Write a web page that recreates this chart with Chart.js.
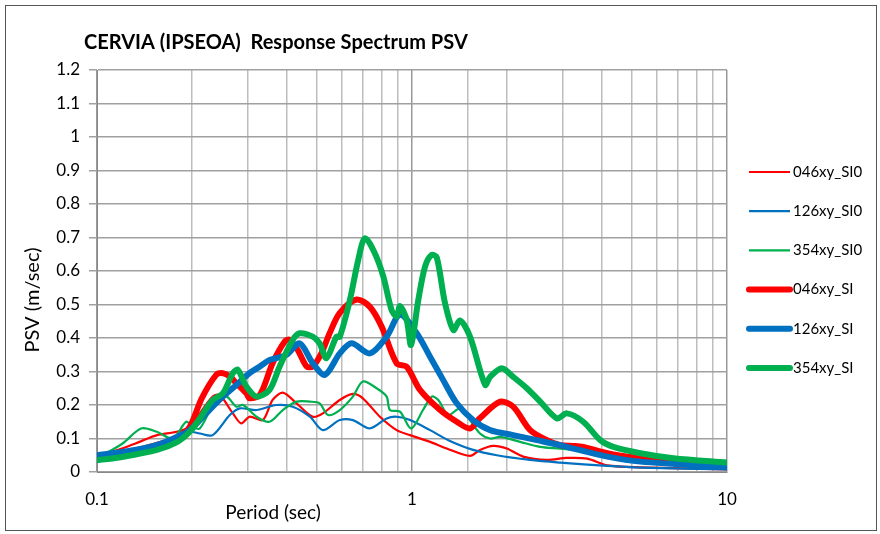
<!DOCTYPE html>
<html>
<head>
<meta charset="utf-8">
<title>CERVIA (IPSEOA) Response Spectrum PSV</title>
<script src="https://cdn.jsdelivr.net/npm/chart.js@4.4.1/dist/chart.umd.min.js"></script>
<style>
  html, body { margin: 0; padding: 0; background: #fff; }
  #wrap { position: relative; width: 880px; height: 534px; }
</style>
</head>
<body>
<div id="wrap"><canvas id="psvChart" width="880" height="534"></canvas></div>
<script>
// periods (sec) and PSV (m/sec) for each record
const t046SI0 = [0.1, 0.12, 0.1365, 0.155, 0.179, 0.197, 0.212, 0.233, 0.245, 0.27, 0.287, 0.305, 0.336, 0.361, 0.389, 0.43, 0.484, 0.521, 0.59, 0.649, 0.698, 0.791, 0.894, 0.986, 1.141, 1.289, 1.528, 1.644, 1.81, 2.0, 2.253, 2.681, 3.1, 3.6, 4.169, 5.31, 10];
const v046SI0 = [0.045, 0.07, 0.09, 0.11, 0.12, 0.135, 0.175, 0.225, 0.23, 0.175, 0.145, 0.165, 0.155, 0.215, 0.237, 0.205, 0.165, 0.175, 0.215, 0.233, 0.22, 0.165, 0.125, 0.11, 0.09, 0.07, 0.048, 0.066, 0.078, 0.07, 0.046, 0.036, 0.042, 0.04, 0.02, 0.014, 0.008];

const t126SI0 = [0.1, 0.12, 0.14, 0.16, 0.18, 0.197, 0.212, 0.233, 0.264, 0.284, 0.321, 0.371, 0.418, 0.474, 0.521, 0.59, 0.649, 0.735, 0.831, 0.894, 0.986, 1.141, 1.304, 1.563, 1.859, 2.372, 2.956, 4.169, 5.31, 10];
const v126SI0 = [0.045, 0.06, 0.07, 0.09, 0.105, 0.12, 0.115, 0.11, 0.17, 0.19, 0.185, 0.2, 0.195, 0.165, 0.125, 0.155, 0.155, 0.13, 0.16, 0.165, 0.155, 0.125, 0.095, 0.066, 0.05, 0.036, 0.028, 0.018, 0.013, 0.008];

const t354SI0 = [0.1, 0.1205, 0.138, 0.155, 0.174, 0.192, 0.201, 0.212, 0.239, 0.258, 0.277, 0.291, 0.321, 0.353, 0.389, 0.43, 0.474, 0.509, 0.542, 0.59, 0.649, 0.698, 0.772, 0.831, 0.851, 0.916, 0.993, 1.084, 1.155, 1.212, 1.304, 1.421, 1.528, 1.644, 1.77, 1.905, 2.204, 2.552, 2.956, 3.251, 4.169, 5.31, 6.76, 10];
const v354SI0 = [0.04, 0.085, 0.13, 0.12, 0.1, 0.15, 0.135, 0.13, 0.215, 0.225, 0.195, 0.2, 0.165, 0.15, 0.185, 0.21, 0.21, 0.205, 0.17, 0.185, 0.225, 0.27, 0.25, 0.225, 0.185, 0.18, 0.13, 0.185, 0.225, 0.215, 0.17, 0.19, 0.155, 0.115, 0.1, 0.105, 0.09, 0.075, 0.07, 0.066, 0.046, 0.035, 0.028, 0.02];

const t046SI = [0.1, 0.12, 0.14, 0.16, 0.18, 0.197, 0.215, 0.239, 0.251, 0.264, 0.277, 0.298, 0.305, 0.329, 0.361, 0.395, 0.409, 0.434, 0.463, 0.484, 0.516, 0.548, 0.59, 0.667, 0.735, 0.801, 0.894, 0.962, 1.06, 1.228, 1.387, 1.528, 1.644, 1.905, 2.095, 2.372, 2.681, 2.956, 3.25, 3.496, 4.169, 5.31, 6.76, 10];
const v046SI = [0.04, 0.055, 0.07, 0.085, 0.1, 0.135, 0.22, 0.29, 0.295, 0.285, 0.265, 0.235, 0.22, 0.23, 0.325, 0.39, 0.395, 0.364, 0.315, 0.315, 0.355, 0.415, 0.475, 0.515, 0.493, 0.434, 0.324, 0.314, 0.245, 0.185, 0.15, 0.13, 0.161, 0.21, 0.195, 0.125, 0.095, 0.08, 0.078, 0.075, 0.056, 0.04, 0.028, 0.016];

const t126SI = [0.1, 0.12, 0.14, 0.16, 0.18, 0.197, 0.222, 0.251, 0.277, 0.305, 0.329, 0.353, 0.4, 0.44, 0.484, 0.529, 0.59, 0.643, 0.735, 0.831, 0.916, 1.035, 1.141, 1.255, 1.387, 1.563, 1.77, 2.095, 2.492, 2.956, 3.251, 4.169, 5.31, 10];
const v126SI = [0.05, 0.06, 0.07, 0.085, 0.105, 0.125, 0.175, 0.225, 0.26, 0.295, 0.315, 0.334, 0.35, 0.384, 0.325, 0.29, 0.354, 0.384, 0.354, 0.404, 0.469, 0.414, 0.344, 0.275, 0.205, 0.155, 0.125, 0.11, 0.095, 0.08, 0.07, 0.046, 0.031, 0.014];

const t354SI = [0.1, 0.12, 0.155, 0.18, 0.197, 0.212, 0.233, 0.251, 0.27, 0.28, 0.298, 0.321, 0.353, 0.38, 0.418, 0.44, 0.484, 0.509, 0.535, 0.576, 0.59, 0.635, 0.675, 0.709, 0.762, 0.811, 0.861, 0.894, 0.916, 0.962, 0.993, 1.047, 1.1, 1.155, 1.199, 1.273, 1.353, 1.421, 1.528, 1.707, 1.77, 1.928, 2.095, 2.315, 2.552, 2.885, 3.104, 3.496, 3.96, 4.357, 5.31, 6.76, 10];
const v354SI = [0.035, 0.045, 0.066, 0.09, 0.12, 0.16, 0.215, 0.235, 0.295, 0.305, 0.255, 0.225, 0.245, 0.315, 0.394, 0.414, 0.404, 0.384, 0.34, 0.404, 0.404, 0.513, 0.633, 0.698, 0.653, 0.583, 0.484, 0.464, 0.495, 0.454, 0.379, 0.513, 0.613, 0.648, 0.64, 0.504, 0.424, 0.452, 0.404, 0.26, 0.284, 0.31, 0.284, 0.25, 0.21, 0.16, 0.175, 0.15, 0.095, 0.075, 0.056, 0.041, 0.028];

const xTickLabels = [0.1, 1, 10];

const RED = '#ff0000';
const BLUE = '#0070c0';
const GREEN = '#00b050';

function points(ts, vs) {
    return ts.map(function (t, i) { return { x: t, y: vs[i] }; });
}

function series(label, ts, vs, color, width, order) {
    return {
        label: label,
        data: points(ts, vs),
        borderColor: color,
        backgroundColor: color,
        borderWidth: width,
        borderCapStyle: 'round',
        borderJoinStyle: 'round',
        pointRadius: 0,
        tension: 0.3,
        fill: false,
        order: order
    };
}

function isDecade(v) {
    return xTickLabels.some(function (d) { return Math.abs(v - d) < 1e-9; });
}

// titles, legend and outer frame
const decorations = {
    id: 'decorations',
    afterDraw: function (chart) {
        const ctx = chart.ctx;
        ctx.save();

        ctx.strokeStyle = '#555';
        ctx.lineWidth = 1;
        ctx.strokeRect(5.5, 5.5, 871, 525);

        ctx.fillStyle = '#000';
        ctx.textBaseline = 'middle';
        ctx.textAlign = 'left';
        ctx.font = 'bold 20px Lato';
        ctx.fillText('CERVIA (IPSEOA)  Response Spectrum PSV', 84, 43);

        ctx.font = '19px Lato';
        ctx.textAlign = 'center';
        ctx.fillText('Period (sec)', 273, 513);

        ctx.save();
        ctx.translate(33, 300);
        ctx.rotate(-Math.PI / 2);
        ctx.font = '20px Lato';
        ctx.fillText('PSV (m/sec)', 0, 0);
        ctx.restore();

        ctx.font = '15px Lato';
        ctx.textAlign = 'left';
        chart.data.datasets.forEach(function (ds, i) {
            const y = 172 + i * 39.2;
            ctx.strokeStyle = ds.borderColor;
            ctx.lineWidth = ds.borderWidth;
            ctx.lineCap = ds.borderWidth > 3 ? 'round' : 'butt';
            ctx.beginPath();
            ctx.moveTo(749, y);
            ctx.lineTo(790, y);
            ctx.stroke();
            ctx.fillStyle = '#000';
            ctx.fillText(ds.label, 793, y);
        });

        ctx.restore();
    }
};

new Chart(document.getElementById('psvChart').getContext('2d'), {
    type: 'line',
    data: {
        datasets: [
            series('046xy_SI0', t046SI0, v046SI0, RED, 2.2, 6),
            series('126xy_SI0', t126SI0, v126SI0, BLUE, 2.2, 5),
            series('354xy_SI0', t354SI0, v354SI0, GREEN, 2.2, 4),
            series('046xy_SI', t046SI, v046SI, RED, 6, 3),
            series('126xy_SI', t126SI, v126SI, BLUE, 6, 2),
            series('354xy_SI', t354SI, v354SI, GREEN, 6, 1)
        ]
    },
    options: {
        responsive: false,
        animation: false,
        layout: {
            padding: { top: 70, right: 153, bottom: 0, left: 0 }
        },
        plugins: {
            legend: { display: false },
            title: { display: false },
            tooltip: { enabled: false }
        },
        scales: {
            x: {
                type: 'logarithmic',
                min: 0.1,
                max: 10,
                afterFit: function (scale) { scale.height = 62; },
                border: { color: '#888', width: 1 },
                grid: {
                    drawTicks: false,
                    color: function (c) {
                        return c.tick && isDecade(c.tick.value) ? '#999' : '#bdbdbd';
                    },
                    lineWidth: 1.5
                },
                ticks: {
                    autoSkip: false,
                    maxRotation: 0,
                    padding: 17,
                    color: '#000',
                    font: { family: 'Lato', size: 17 },
                    callback: function (value) {
                        return isDecade(value) ? String(value) : '';
                    }
                }
            },
            y: {
                min: 0,
                max: 1.2,
                afterFit: function (scale) { scale.width = 97; },
                border: { color: '#888', width: 1 },
                grid: {
                    color: '#a0a0a0',
                    lineWidth: 1.5,
                    tickLength: 8
                },
                ticks: {
                    stepSize: 0.1,
                    padding: 9,
                    color: '#000',
                    font: { family: 'Lato', size: 17 },
                    callback: function (value) {
                        return String(Number(value.toFixed(1)));
                    }
                }
            }
        }
    },
    plugins: [decorations]
});
</script>
</body>
</html>
